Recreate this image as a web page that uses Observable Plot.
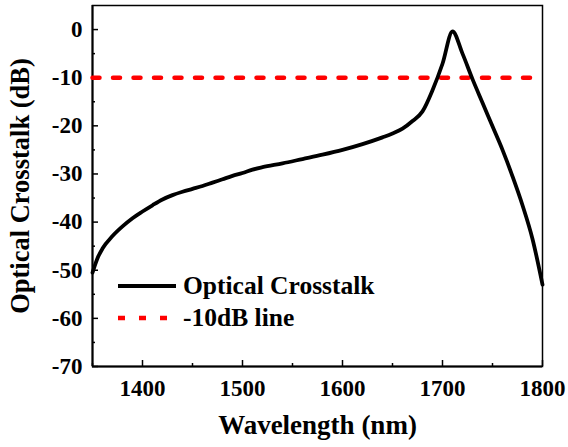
<!DOCTYPE html>
<html><head><meta charset="utf-8">
<script src="https://cdn.jsdelivr.net/npm/d3@7"></script>
<script src="https://cdn.jsdelivr.net/npm/@observablehq/plot@0.6"></script>
<style>
body{margin:0;background:#fff}
#chart svg{font-family:"Liberation Serif","Times New Roman",serif;font-weight:bold;}
</style>
</head><body><div id="chart"></div>
<script>
const wavelength = [1350,1355,1360,1370,1380,1390,1400,1410,1420,1430,1440,1450,1460,1470,1480,1490,1500,1510,1520,1540,1560,1580,1600,1620,1640,1650,1660,1670,1680,1690,1700,1710,1720,1730,1740,1750,1760,1770,1780,1790,1800];
const crosstalk  = [-50.5,-47.5,-45.5,-42.9,-40.9,-39.2,-37.8,-36.5,-35.3,-34.4,-33.7,-33.1,-32.5,-31.8,-31.1,-30.4,-29.8,-29.1,-28.6,-27.8,-26.9,-26.0,-25.0,-23.8,-22.4,-21.6,-20.6,-19.0,-17.0,-12.6,-7.1,-0.4,-5.0,-10.3,-15.2,-20.1,-25.0,-30.5,-36.5,-43.5,-53.0];
const thresholdX = [1350, 1788];
const thresholdY = [-10, -10];
const xTicks = [1400, 1500, 1600, 1700, 1800];
const xMinor = [1350, 1450, 1550, 1650, 1750];
const yTicks = [0, -10, -20, -30, -40, -50, -60, -70];
const yMinor = [-5, -15, -25, -35, -45, -55, -65];
const xDomain = [1350, 1800];
const yDomain = [-70, 5];
const legendLabels = ["Optical Crosstalk", "-10dB line"];
const xTitle = "Wavelength (nm)";
const yTitle = "Optical Crosstalk (dB)";

const curve = wavelength.map((w, i) => ({w, c: crosstalk[i]}));
const thresh = thresholdX.map((w, i) => ({w, c: thresholdY[i]}));
const fmt = d => String(d);

const svg = Plot.plot({
  width: 568, height: 447,
  marginLeft: 92, marginRight: 26, marginTop: 5, marginBottom: 81,
  style: {fontFamily: '"Liberation Serif","Times New Roman",serif', fontWeight: "bold", background: "white", color: "black"},
  x: {domain: xDomain},
  y: {domain: yDomain},
  marks: [
    Plot.axisX(xTicks, {tickSize: 0, tickPadding: 13, fontSize: 23, tickFormat: fmt, label: null}),
    Plot.axisX(xTicks, {tickSize: -6, fill: "none", strokeWidth: 1.5, label: null}),
    Plot.axisX(xMinor, {tickSize: -3, fill: "none", strokeWidth: 1.5, label: null}),
    Plot.axisY(yTicks, {tickSize: 0, tickPadding: 10, fontSize: 23, tickFormat: fmt, label: null}),
    Plot.axisY(yTicks, {tickSize: -6, fill: "none", strokeWidth: 1.5, label: null}),
    Plot.axisY(yMinor, {tickSize: -3, fill: "none", strokeWidth: 1.5, label: null}),
    Plot.frame({stroke: "black", strokeWidth: 1.5}),
    Plot.ruleX([xDomain[0]], {stroke: "black", strokeWidth: 2}),
    Plot.ruleY([yDomain[0]], {stroke: "black", strokeWidth: 2}),
    Plot.line(thresh, {x: "w", y: "c", stroke: "#ff0000", strokeWidth: 4.5, strokeDasharray: "7,13.5"}),
    Plot.line(curve, {x: "w", y: "c", stroke: "black", strokeWidth: 3.8, curve: "monotone-x"}),
    Plot.text([xTitle], {frameAnchor: "bottom", dy: 67, lineAnchor: "bottom", textAnchor: "middle", fontSize: 27, fontWeight: "bold"}),
    Plot.text([yTitle], {frameAnchor: "left", dx: -64, rotate: -90, lineAnchor: "bottom", textAnchor: "middle", fontSize: 26.5, fontWeight: "bold"})
  ]
});

// legend inside plot area
const g = d3.select(svg).append("g").attr("class", "legend").attr("text-anchor", "start");
const legendStyles = [
  {stroke: "black", width: 3.8, dash: null},
  {stroke: "#ff0000", width: 4.5, dash: "7,14"}
];
legendLabels.forEach((lab, i) => {
  const y = 286 + i * 32;
  g.append("line").attr("x1", 118).attr("x2", i === 0 ? 176 : 167).attr("y1", y).attr("y2", y)
    .attr("stroke", legendStyles[i].stroke).attr("stroke-width", legendStyles[i].width)
    .attr("stroke-dasharray", legendStyles[i].dash);
  g.append("text").attr("x", 183).attr("y", y + 8).attr("font-size", 25.5).attr("font-weight", "bold")
    .attr("text-anchor", "start").attr("fill", "black").text(lab);
});

document.getElementById("chart").appendChild(svg);
</script>
</body></html>
